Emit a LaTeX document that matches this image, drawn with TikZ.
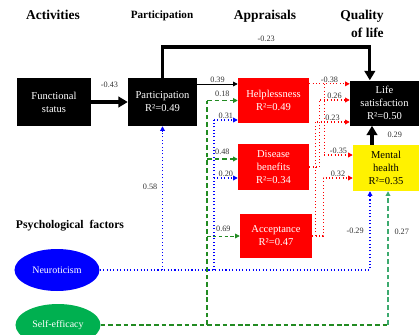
\documentclass[tikz,border=0pt]{standalone}
\usepackage{fontspec}
\setmainfont{Liberation Serif}
\usetikzlibrary{arrows.meta,shapes.geometric}

\definecolor{qolGreenDark}{RGB}{34,139,34}
\definecolor{qolGreenSea}{RGB}{60,170,110}
\definecolor{qolGreenFill}{RGB}{0,176,80}

\begin{document}
\begin{tikzpicture}[x=0.03cm, y=-0.03cm,
    qolBox/.style={minimum width=2.13cm, minimum height=1.38cm, align=center, inner sep=1pt, text=white, font=\fontsize{9}{11}\selectfont},
    qolBlack/.style={qolBox, fill=black},
    qolRed/.style={qolBox, fill=red},
    qolYellow/.style={qolBox, fill=yellow, text=black},
    qolOval/.style={ellipse, minimum width=2.55cm, minimum height=1.26cm, inner sep=1pt, text=white, font=\fontsize{8.5}{10}\selectfont},
    qolHead/.style={align=right, font=\bfseries\fontsize{11.5}{15}\selectfont},
    qolNum/.style={inner sep=1pt, text=black!80, font=\fontsize{7}{8}\selectfont},
    qolThick/.style={-{Triangle[length=8pt,width=9pt]}, line width=2.6pt},
    qolThin/.style={-{Triangle[length=4pt,width=4pt]}, line width=0.8pt},
    qolGreen/.style={-{Triangle[length=4pt,width=4pt]}, dash pattern=on 4pt off 2.5pt, line width=1.1pt, draw=qolGreenDark},
    qolBlue/.style={-{Triangle[length=4pt,width=4pt]}, dotted, line width=0.9pt, draw=blue},
    qolRedLine/.style={-{Triangle[length=4pt,width=4pt]}, dotted, line width=0.9pt, draw=red}]

    \useasboundingbox (0,0) rectangle (420,334);

    % headings
    \node[qolHead] (hAct) at (53,15) {Activities};
    \node[qolHead, font=\bfseries\fontsize{9.5}{11}\selectfont] (hPart) at (162,16) {Participation};
    \node[qolHead] (hApp) at (265,16) {Appraisals};
    \node[qolHead] (hQol) at (362,24) {Quality\\of life};
    \node[qolHead, font=\bfseries\fontsize{10}{12}\selectfont] (hPsy) at (70,226) {Psychological\ \ factors};

    % boxes
    \node[qolBlack, minimum width=2.22cm, minimum height=1.44cm] (fs) at (54,102) {Functional\\status};
    \node[qolBlack, minimum width=2.07cm, minimum height=1.44cm] (part) at (162.5,102) {Participation\\R²=0.49};
    \node[qolRed, minimum height=1.35cm] (help) at (273.5,100.5) {Helplessness\\R²=0.49};
    \node[qolRed] (dis) at (273.5,167) {Disease\\benefits\\R²=0.34};
    \node[qolRed, minimum width=2.16cm, minimum height=1.32cm] (acc) at (276,236) {Acceptance\\R²=0.47};
    \node[qolBlack, minimum width=2.07cm, minimum height=1.35cm] (ls) at (384.5,103) {Life\\satisfaction\\R²=0.50};
    \node[qolYellow, minimum width=1.98cm] (mh) at (386,168) {Mental\\health\\R²=0.35};

    \node[qolOval, fill=blue] (neuro) at (57,270) {Neuroticism};
    \node[qolOval, fill=qolGreenFill] (self) at (58,325) {Self-efficacy};

    \coordinate (topRail) at (0,47);
    \coordinate (gBus) at (207,0);
    \coordinate (bBus) at (214,0);
    \coordinate (mhGreen) at ([xshift=0.06cm]mh.south);
    \coordinate (mhBlue) at ([xshift=-0.48cm]mh.south);

    % black paths
    \draw[qolThick] (fs) -- node[qolNum, above=10pt] {-0.43} (part);
    \draw[qolThick] (part.north) -- (part.north |- topRail) -| node[qolNum, above=2pt, pos=0.25] {-0.23} ([xshift=-0.44cm]ls.north);
    \draw[qolThick] ([xshift=-0.42cm]mh.north) -- node[qolNum, right=11pt] {0.29} ([xshift=-0.42cm]mh.north |- ls.south);
    \draw[qolThin] ([yshift=0.54cm]part.east) -- node[qolNum, above] {0.39} ([yshift=0.54cm]part.east -| help.west);

    % appraisals to quality of life
    \draw[qolRedLine] ([yshift=0.5cm]help.east) -- node[qolNum, above] {-0.38} ([yshift=0.5cm]help.east -| ls.west);
    \draw[qolRedLine] ([yshift=0.5cm, xshift=0.45cm]help.east) |- node[qolNum, above, pos=0.75] {-0.35} ([yshift=0.39cm]mh.west);
    \draw[qolRedLine] (dis.east) -- ++(10,0) |- node[qolNum, above, pos=0.75] {0.26} ([yshift=0.09cm]ls.west);
    \draw[qolRedLine] (acc.east) -- ++(3,0) |- node[qolNum, above, pos=0.75] {0.23} ([yshift=-0.57cm]ls.west);
    \draw[qolRedLine] (acc.east) -- ++(11,0) |- node[qolNum, above, pos=0.75] {0.32} ([yshift=-0.3cm]mh.west);

    % self-efficacy
    \draw[qolGreen, -] (self.east) -- (self.east -| mhGreen);
    \draw[qolGreen, draw=qolGreenSea] (self.east -| mhGreen) -- node[qolNum, right=4pt, pos=0.7] {0.27} (mhGreen);
    \draw[qolGreen, -] (self.east -| gBus) -- (gBus |- help.west);
    \draw[qolGreen] (gBus |- help.west) -- node[qolNum, above=2pt] {0.18} (help.west);
    \draw[qolGreen] ([yshift=0.24cm]gBus |- dis.west) -- node[qolNum, above=2pt] {0.48} ([yshift=0.24cm]dis.west);
    \draw[qolGreen, line width=0.8pt, dash pattern=on 3pt off 2pt] (gBus |- acc.west) -- node[qolNum, above=2pt] {0.69} (acc.west);

    % neuroticism
    \draw[qolBlue] (neuro.east) -| node[qolNum, left=4pt, pos=0.75] {-0.29} (mhBlue);
    \draw[qolBlue] (neuro.east -| part.south) -- node[qolNum, left=3pt, pos=0.58] {0.58} (part.south);
    \draw[qolBlue, -] (neuro.east -| bBus) -- ([yshift=-0.585cm]bBus |- help.west);
    \draw[qolBlue] ([yshift=-0.585cm]bBus |- help.west) -- node[qolNum, above] {0.31} ([yshift=-0.585cm]help.west);
    \draw[qolBlue] ([yshift=-0.33cm]bBus |- dis.west) -- node[qolNum, above] {0.20} ([yshift=-0.33cm]dis.west);
\end{tikzpicture}
\end{document}
